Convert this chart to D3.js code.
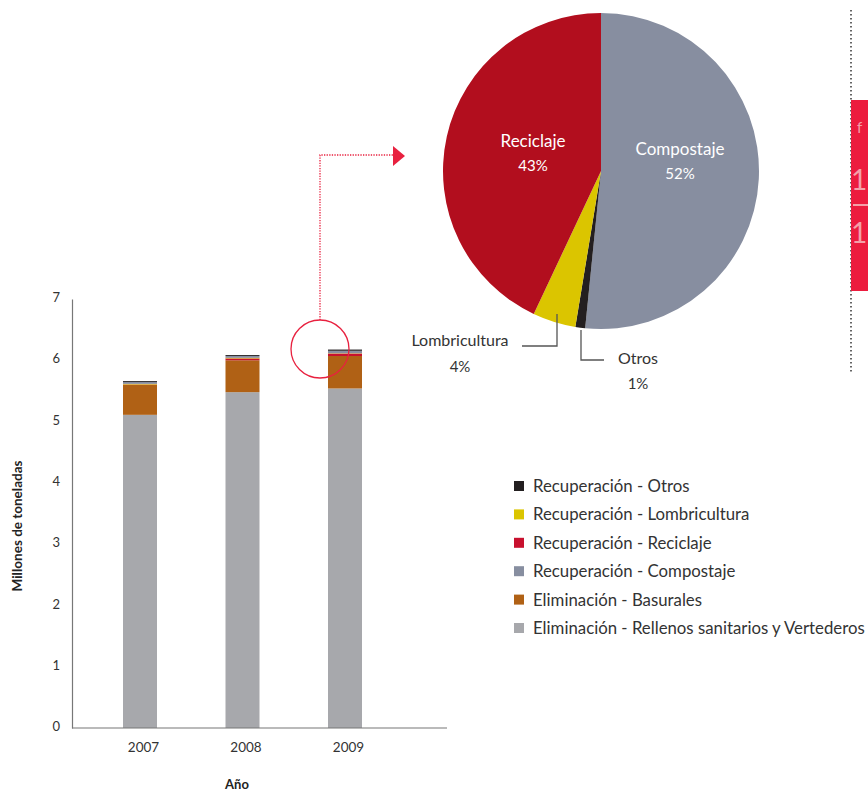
<!DOCTYPE html>
<html><head><meta charset="utf-8">
<script src="https://cdn.jsdelivr.net/npm/d3@7"></script>
<style>body{margin:0;background:#fff;} text{font-family:Lato,"Open Sans",sans-serif;}</style>
</head><body>
<svg id="c" width="868" height="792"></svg>
<script>
const years = ["2007","2008","2009"];
const seriesNames = ["Eliminación - Rellenos sanitarios y Vertederos","Eliminación - Basurales","Recuperación - Reciclaje","Recuperación - Lombricultura","Recuperación - Compostaje","Recuperación - Otros"];
const rellenos = [5.11, 5.48, 5.54];
const basurales = [0.49, 0.52, 0.53];
const reciclaje = [0.005, 0.03, 0.04];
const lombricultura = [0.01, 0.01, 0.005];
const compostaje = [0.03, 0.03, 0.04];
const otros = [0.015, 0.015, 0.02];
const seriesColors = ["#a7a8ac","#b06115","#c8102e","#dbc500","#878ea0","#231f20"];
const yTicks = [0,1,2,3,4,5,6,7];
const legendOrder = ["Recuperación - Otros","Recuperación - Lombricultura","Recuperación - Reciclaje","Recuperación - Compostaje","Eliminación - Basurales","Eliminación - Rellenos sanitarios y Vertederos"];
const pieLabels = ["Compostaje","Otros","Lombricultura","Reciclaje"];
const pieValues = [51.6, 1.0, 4.4, 43.0];
const pieColors = ["#878ea0","#231f20","#dbc500","#b20e1e"];

const svg = d3.select("#c");
const rows = years.map((y,i)=>({year:y, [seriesNames[0]]:rellenos[i], [seriesNames[1]]:basurales[i], [seriesNames[2]]:reciclaje[i], [seriesNames[3]]:lombricultura[i], [seriesNames[4]]:compostaje[i], [seriesNames[5]]:otros[i]}));
const stack = d3.stack().keys(seriesNames)(rows);
const color = d3.scaleOrdinal(seriesNames, seriesColors);

const y = d3.scaleLinear().domain([0,7]).range([728,299]);
const x = d3.scalePoint().domain(years).range([140,345]).padding(0);
const bw = 34;

// bars
svg.append("g").selectAll("g").data(stack).join("g").attr("fill", d=>color(d.key))
  .selectAll("rect").data(d=>d).join("rect")
  .attr("x", d=>x(d.data.year)-bw/2)
  .attr("width", bw)
  .attr("y", d=>y(d[1])).attr("height", d=>Math.max(0,y(d[0])-y(d[1])));

// axes
const yAxis = svg.append("g").attr("transform","translate(72,0)")
  .call(d3.axisLeft(y).tickValues(yTicks).tickSize(0).tickPadding(12).tickFormat(d3.format("d")));
yAxis.select(".domain").attr("stroke","#777").attr("stroke-width",1.2);
yAxis.selectAll("text").attr("font-size",13).attr("fill","#333").attr("dy","0.2em");
svg.append("line").attr("x1",72).attr("x2",447).attr("y1",728).attr("y2",728).attr("stroke","#777").attr("stroke-width",1.2);
const xAxis = svg.append("g").attr("transform","translate(0,728)")
  .call(d3.axisBottom(x).tickSize(0).tickPadding(14));
xAxis.select(".domain").remove();
xAxis.selectAll("text").attr("font-size",13.5).attr("fill","#333").attr("x",3);

svg.append("text").attr("transform","translate(22,526) rotate(-90)").attr("text-anchor","middle")
  .attr("font-size",13.5).attr("font-weight","bold").attr("fill","#222").text("Millones de toneladas");
svg.append("text").attr("x",237).attr("y",789).attr("text-anchor","middle")
  .attr("font-size",13).attr("font-weight","bold").attr("fill","#222").text("Año");

// callout
const red = "#e8213f";
svg.append("circle").attr("cx",320).attr("cy",349).attr("r",29).attr("fill","none").attr("stroke",red).attr("stroke-width",1.3);
svg.append("path").attr("d","M320,320 V155 H394").attr("fill","none").attr("stroke",red).attr("stroke-width",1.3).attr("stroke-dasharray","1.3,1.3");
svg.append("path").attr("d","M393,146 L405,156 L393,166 Z").attr("fill",red);

// pie
const pcx = 601, pcy = 171, pr = 158;
const pie = d3.pie().sort(null).value(d=>d)(pieValues);
const arc = d3.arc().innerRadius(0).outerRadius(pr);
const pg = svg.append("g").attr("transform",`translate(${pcx},${pcy})`);
pg.selectAll("path").data(pie).join("path").attr("d",arc).attr("fill",(d,i)=>pieColors[i]);
const fmt = v=>Math.round(v)+"%";
pg.append("text").attr("x",-68).attr("y",-24).attr("text-anchor","middle").attr("fill","#fff").attr("font-size",17).text(pieLabels[3]);
pg.append("text").attr("x",-68).attr("y",0).attr("text-anchor","middle").attr("fill","#fff").attr("font-size",15).text(fmt(pieValues[3]));
pg.append("text").attr("x",79).attr("y",-16).attr("text-anchor","middle").attr("fill","#fff").attr("font-size",17).text(pieLabels[0]);
pg.append("text").attr("x",79).attr("y",8).attr("text-anchor","middle").attr("fill","#fff").attr("font-size",15).text(fmt(pieValues[0]));
// leader lines
svg.append("path").attr("d","M557,314 V346 H522").attr("fill","none").attr("stroke","#555").attr("stroke-width",1.3);
svg.append("path").attr("d","M581,330 V360 H604").attr("fill","none").attr("stroke","#555").attr("stroke-width",1.3);
svg.append("text").attr("x",460).attr("y",346).attr("text-anchor","middle").attr("fill","#333").attr("font-size",16).text(pieLabels[2]);
svg.append("text").attr("x",460).attr("y",372).attr("text-anchor","middle").attr("fill","#333").attr("font-size",15).text(fmt(pieValues[2]));
svg.append("text").attr("x",638).attr("y",364).attr("text-anchor","middle").attr("fill","#333").attr("font-size",16).text(pieLabels[1]);
svg.append("text").attr("x",638).attr("y",389).attr("text-anchor","middle").attr("fill","#333").attr("font-size",15).text(fmt(pieValues[1]));

// legend
const lg = svg.append("g");
legendOrder.forEach((n,i)=>{
  const yy = 486 + i*28.4;
  lg.append("rect").attr("x",514).attr("y",yy-5).attr("width",10).attr("height",10).attr("fill",color(n));
  lg.append("text").attr("x",533).attr("y",yy+6).attr("font-size",16.8).attr("fill","#333").text(n);
});

// right side fragment
svg.append("line").attr("x1",851).attr("x2",851).attr("y1",10).attr("y2",372).attr("stroke","#333").attr("stroke-width",1.5).attr("stroke-dasharray","1.5,2.5");
svg.append("rect").attr("x",851).attr("y",100).attr("width",17).attr("height",191).attr("fill","#ec1c3e");
svg.append("text").attr("x",857).attr("y",133).attr("font-size",15).attr("fill","#f4a0a8").text("f");
svg.append("text").attr("x",851).attr("y",190).attr("font-size",28).attr("fill","#f4a0a8").text("1");
svg.append("line").attr("x1",853).attr("x2",868).attr("y1",205).attr("y2",205).attr("stroke","#f4a0a8").attr("stroke-width",2);
svg.append("text").attr("x",851).attr("y",243).attr("font-size",28).attr("fill","#f4a0a8").text("1");
</script>
</body></html>
